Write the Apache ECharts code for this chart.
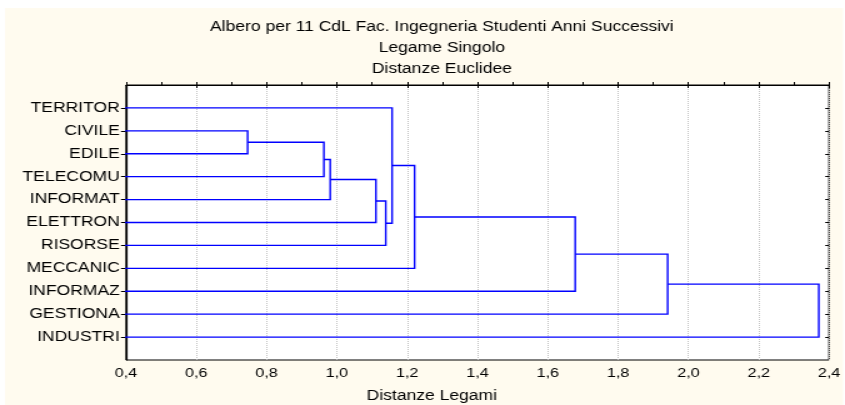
<!DOCTYPE html>
<html>
<head>
<meta charset="utf-8">
<title>Albero per 11 CdL</title>
<script src="https://cdn.jsdelivr.net/npm/echarts@6/dist/echarts.min.js"></script>
<style>
  html, body { margin: 0; padding: 0; background: #fff; overflow: hidden; }
  /* the chart is laid out narrow and widened horizontally */
  #chart { width: 676px; height: 405px; transform: scaleX(1.25); transform-origin: 0 0; }
</style>
</head>
<body>
<div id="chart"></div>
<script>
// Leaves in dendrogram order (top to bottom)
const leafNames = ['TERRITOR', 'CIVILE', 'EDILE', 'TELECOMU', 'INFORMAT', 'ELETTRON',
                   'RISORSE', 'MECCANIC', 'INFORMAZ', 'GESTIONA', 'INDUSTRI'];

// Single-linkage merges: node ids 0..10 are leaves, each merge creates id 11, 12, ...
const mergeLeft   = [1, 11, 12, 13, 14, 0, 16, 17, 18, 19];
const mergeRight  = [2, 3, 4, 5, 6, 15, 7, 8, 9, 10];
const mergeHeight = [0.746, 0.963, 0.981, 1.111, 1.139, 1.157, 1.221, 1.678, 1.941, 2.371];

// Distance axis ticks
const distTicks = [0.4, 0.6, 0.8, 1.0, 1.2, 1.4, 1.6, 1.8, 2.0, 2.2, 2.4];

// Row positions: leaf i sits at i + 1 on a 0..(n+1) scale
const rowValues = leafNames.map((_, i) => i + 1);

// Compute each node's row position and height, then one polyline per merge
const nodePos = rowValues.slice();
const nodeHeight = leafNames.map(() => 0);
const linkData = [];
mergeHeight.forEach((h, k) => {
  const a = mergeLeft[k], b = mergeRight[k];
  linkData.push([nodeHeight[a], nodePos[a], h, nodePos[b], nodeHeight[b]]);
  nodePos.push((nodePos[a] + nodePos[b]) / 2);
  nodeHeight.push(h);
});

const fmtDist = v => v.toFixed(1).replace('.', ',');
const textFont = "'Liberation Sans', Arial, sans-serif";

const chart = echarts.init(document.getElementById('chart'), null, { renderer: 'canvas' });

chart.setOption({
  backgroundColor: '#ffffff',
  animation: false,
  title: {
    text: 'Albero per 11 CdL Fac. Ingegneria Studenti Anni Successivi\nLegame Singolo\nDistanze Euclidee',
    left: 348.5,
    top: 12,
    textAlign: 'center',
    textStyle: { fontFamily: textFont, fontSize: 14, fontWeight: 'normal', color: '#000', lineHeight: 21 }
  },
  graphic: [{
    type: 'rect',
    z: -10,
    silent: true,
    shape: { x: 4, y: 8, width: 670.4, height: 397 },
    style: { fill: '#fffbef' }
  }],
  grid: {
    left: 100.8, right: 12.8, top: 85, bottom: 45,
    outerBoundsMode: 'none',
    containLabel: false,
    show: true, backgroundColor: '#ffffff', borderColor: '#000', borderWidth: 1
  },
  xAxis: [{
    type: 'value',
    position: 'bottom',
    min: distTicks[0],
    max: distTicks[distTicks.length - 1],
    interval: 0.2,
    name: 'Distanze Legami',
    nameLocation: 'middle',
    nameGap: 29,
    nameTextStyle: { fontFamily: textFont, fontSize: 14, color: '#000', padding: [0, 73, 0, 0] },
    axisLine: { show: true, lineStyle: { color: '#000', width: 1.2 } },
    axisTick: { show: true, inside: true, length: 3, lineStyle: { color: '#000' } },
    minorTick: { show: true, splitNumber: 2, length: 3, lineStyle: { color: '#000' } },
    axisLabel: { fontFamily: textFont, fontSize: 13, color: '#000', margin: 7, formatter: fmtDist },
    splitLine: { show: true, lineStyle: { color: '#c4c4c4', type: 'dotted', width: 1 } }
  }, {
    type: 'value',
    position: 'top',
    min: distTicks[0],
    max: distTicks[distTicks.length - 1],
    interval: 0.2,
    axisLine: { show: false },
    axisTick: { show: true, inside: true, length: 3, lineStyle: { color: '#000' } },
    axisLabel: { show: false },
    splitLine: { show: false }
  }],
  yAxis: [{
    type: 'value',
    position: 'left',
    inverse: true,
    min: 0,
    max: leafNames.length + 1,
    interval: 1,
    axisLine: { show: true, lineStyle: { color: '#000', width: 1.2 } },
    axisTick: { show: true, inside: false, length: 4, customValues: rowValues, lineStyle: { color: '#000' } },
    axisLabel: {
      fontFamily: textFont, fontSize: 14, color: '#000', margin: 5,
      customValues: rowValues,
      formatter: v => leafNames[v - 1] || ''
    },
    splitLine: { show: false }
  }, {
    type: 'value',
    position: 'right',
    inverse: true,
    min: 0,
    max: leafNames.length + 1,
    interval: 1,
    axisLine: { show: false },
    axisTick: { show: true, inside: true, length: 3, customValues: rowValues, lineStyle: { color: '#000' } },
    axisLabel: { show: false },
    splitLine: { show: false }
  }],
  series: [{
    type: 'custom',
    clip: true,
    xAxisIndex: 0,
    yAxisIndex: 0,
    data: linkData,
    encode: { x: [0, 2, 4], y: [1, 3] },
    renderItem: (params, api) => {
      const ha = api.value(0), ya = api.value(1), h = api.value(2), yb = api.value(3), hb = api.value(4);
      return {
        type: 'polyline',
        shape: { points: [api.coord([ha, ya]), api.coord([h, ya]), api.coord([h, yb]), api.coord([hb, yb])] },
        style: { stroke: '#0000ff', lineWidth: 1.4, fill: null }
      };
    }
  }]
});
</script>
</body>
</html>
